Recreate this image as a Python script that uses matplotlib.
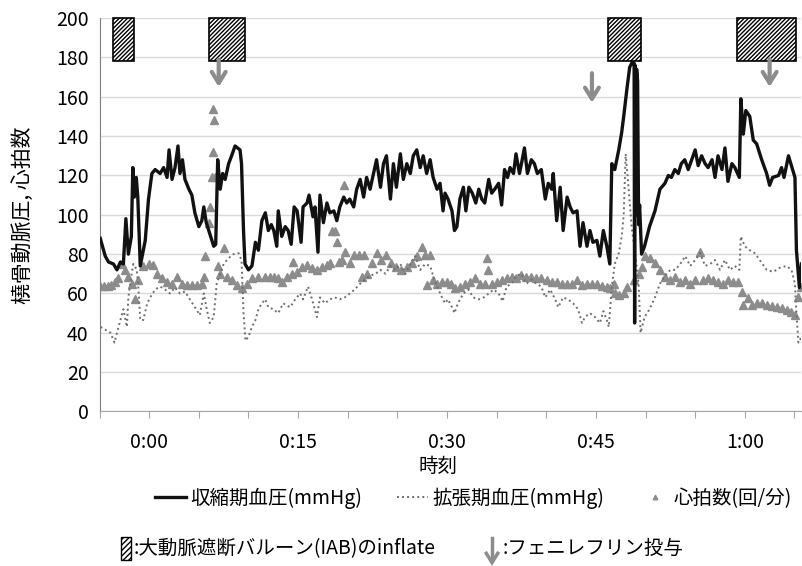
import matplotlib
matplotlib.use("Agg")
import matplotlib.pyplot as plt
from matplotlib.patches import Rectangle
from matplotlib.lines import Line2D
from matplotlib.ticker import MultipleLocator, FuncFormatter

plt.rcParams['font.family'] = ['Noto Sans CJK JP', 'DejaVu Sans']
plt.rcParams['hatch.linewidth'] = 1.0

# ---- data (minutes from 0:00) ----------------------------------------------
sys_t = [-4.93, -4.43, -4.1, -3.6, -3.25, -2.9, -2.6, -2.35, -2.1, -1.8, -1.65, -1.5, -1.3, -1.15,
         -0.9, -0.4, -0.07, 0.27, 0.6, 1.1, 1.45, 1.8, 2.0, 2.3, 2.6, 2.9, 3.1, 3.35, 3.6, 4.0,
         4.3, 4.6, 5.0, 5.3, 5.5, 5.75, 6.0, 6.5, 6.7, 6.9, 7.15, 7.4, 7.65, 8.0, 8.3, 8.65,
         9.15, 9.3, 9.5, 9.65, 10.0, 10.35, 10.7, 11.0, 11.35, 11.7, 12.0, 12.3, 12.55, 12.85,
         13.0, 13.35, 13.7, 14.0, 14.3, 14.6, 14.9, 15.3, 15.5, 15.9, 16.1, 16.5, 16.7, 17.0,
         17.2, 17.55, 17.9, 18.2, 18.6, 18.9, 19.2, 19.6, 19.9, 20.2, 20.6, 20.9, 21.25, 21.6,
         21.9, 22.25, 22.6, 22.9, 23.3, 23.6, 23.9, 24.3, 24.6, 24.9, 25.3, 25.6, 25.95, 26.3,
         26.6, 26.95, 27.3, 27.6, 27.95, 28.3, 28.6, 29.0, 29.3, 29.6, 29.8, 30.1, 30.5, 30.75,
         31.0, 31.3, 31.65, 31.9, 32.2, 32.55, 32.9, 33.2, 33.5, 33.8, 34.2, 34.5, 34.8, 35.2,
         35.5, 35.8, 36.1, 36.35, 36.7, 36.95, 37.3, 37.5, 37.8, 38.1, 38.5, 38.8, 39.1, 39.5,
         39.9, 40.2, 40.55, 40.7, 41.05, 41.4, 41.7, 42.1, 42.4, 42.7, 43.1, 43.4, 43.7, 44.1,
         44.4, 44.7, 45.1, 45.4, 45.75, 46.1, 46.4, 46.6, 46.9, 47.3, 47.6, 47.8, 48.1, 48.4,
         48.7, 48.85, 48.9, 48.95, 49.05, 49.1, 49.2, 49.3, 49.4, 49.6, 49.9, 50.4, 50.95, 51.45,
         51.95, 52.3, 52.6, 52.95, 53.3, 53.6, 53.95, 54.3, 54.65, 55.0, 55.3, 55.65, 56.0, 56.3,
         56.7, 57.0, 57.3, 57.7, 58.0, 58.3, 58.7, 59.0, 59.45, 59.6, 59.85, 60.1, 60.5, 60.85,
         61.2, 61.7, 62.2, 62.5, 62.8, 63.4, 63.7, 63.95, 64.4, 64.7, 65.05, 65.2, 65.5, 65.7]
sys_v = [88, 79, 76, 75, 72, 76, 75, 98, 80, 89, 124, 109, 119, 109,
         74, 87, 108, 121, 123, 121, 124, 119, 133, 118, 124, 135, 121, 128, 118, 113,
         110, 101, 94, 97, 104, 96, 92, 84, 85, 128, 113, 121, 118, 126, 130, 135,
         133, 126, 92, 75, 72, 74, 86, 82, 97, 101, 92, 95, 92, 84,
         102, 89, 94, 92, 85, 104, 102, 86, 104, 106, 110, 99, 104, 81,
         110, 96, 106, 101, 102, 97, 104, 109, 106, 108, 104, 113, 118, 109,
         119, 113, 121, 128, 114, 126, 130, 108, 126, 114, 131, 118, 126, 121,
         130, 133, 124, 130, 121, 128, 119, 113, 116, 102, 111, 108, 102, 92,
         94, 108, 114, 102, 114, 111, 106, 113, 108, 106, 118, 111, 113, 116,
         105, 123, 119, 124, 121, 131, 121, 126, 134, 121, 128, 126, 121, 123,
         108, 116, 113, 121, 97, 114, 92, 109, 104, 101, 102, 84, 96, 84,
         92, 86, 87, 79, 92, 84, 75, 126, 123, 133, 142, 150, 163, 175,
         178, 177, 45, 176, 100, 174, 168, 95, 105, 80, 84, 94, 102, 113,
         116, 120, 119, 123, 121, 126, 128, 123, 128, 133, 125, 130, 126, 124,
         128, 119, 130, 123, 134, 117, 126, 124, 119, 159, 141, 153, 150, 138,
         136, 128, 121, 115, 119, 120, 124, 119, 130, 125, 119, 82, 63, 75]

dia_t = [-4.9, -4.4, -3.9, -3.5, -3.25, -2.9, -2.6, -2.25, -2.1, -1.8, -1.6, -1.25, -1.1, -0.9,
         -0.6, -0.2, 0.1, 0.6, 1.1, 1.6, 2.1, 2.6, 3.1, 3.6, 4.1, 4.6, 5.1, 5.5, 5.8, 6.1, 6.5,
         6.8, 7.15, 7.5, 8.0, 8.5, 9.0, 9.3, 9.5, 9.7, 10.0, 10.35, 10.7, 11.0, 11.35, 11.7,
         12.0, 12.5, 13.0, 13.5, 14.2, 14.7, 15.2, 15.5, 16.0, 16.4, 16.9, 17.2, 17.7, 18.2,
         18.7, 19.2, 19.7, 20.2, 20.7, 21.25, 21.75, 22.25, 22.8, 23.3, 23.8, 24.3, 24.8, 25.3,
         25.8, 26.3, 26.8, 27.3, 27.8, 28.3, 28.6, 29.0, 29.5, 29.8, 30.1, 30.5, 30.75, 31.1,
         31.65, 32.15, 32.65, 33.2, 33.7, 34.2, 34.7, 35.2, 35.6, 36.0, 36.5, 37.0, 37.5, 38.0,
         38.5, 39.0, 39.5, 39.9, 40.4, 40.9, 41.2, 41.7, 42.2, 42.7, 43.2, 43.6, 43.9, 44.4,
         44.9, 45.4, 45.75, 46.1, 46.3, 46.6, 46.9, 47.3, 47.6, 47.8, 48.0, 48.3, 48.6, 48.9,
         49.3, 49.5, 49.9, 50.4, 50.95, 51.45, 51.95, 52.5, 53.0, 53.5, 54.0, 54.5, 55.0, 55.5,
         56.0, 56.5, 57.0, 57.5, 58.0, 58.5, 59.0, 59.45, 59.6, 60.0, 60.5, 61.0, 61.5, 62.2,
         62.85, 63.5, 64.2, 64.7, 65.05, 65.2, 65.4, 65.7]
dia_v = [43, 41.5, 40, 35, 40, 46.5, 52, 43, 58, 69, 75, 72, 63.5, 46.5,
         46.5, 55, 58, 62, 63.5, 62, 60, 63, 60, 61, 57, 53, 49, 60, 52, 45, 48,
         65, 70, 75, 78, 80, 80.5, 77, 50, 36, 38, 43, 46.5, 52, 55, 57,
         53, 52, 50, 55, 53, 57, 60, 57, 63.5, 57, 48, 58, 55, 57,
         58, 57, 58, 60, 62, 65, 67, 69, 70, 72, 70, 74, 72, 75,
         70, 75, 79, 72, 75, 74, 69, 63.5, 58, 55, 57, 53, 50, 55,
         60, 62, 58, 57, 58, 60, 62, 60, 56, 63.5, 65, 69, 70, 65,
         67, 65, 63.5, 58, 62, 57, 53, 58, 57, 55, 52, 45, 48, 50,
         48, 45, 51, 46.5, 43, 63.5, 75, 80.5, 89, 100, 131, 113, 94, 82,
         65, 40, 48, 52, 58, 65, 69, 72, 72, 75, 79, 74, 77, 80.5,
         74, 75, 77, 72, 77, 72, 74, 72, 89, 84, 82, 80.5, 77, 72,
         71, 73, 74, 72, 65, 50, 35, 38]

hr_t = [-5.0, -4.6, -4.2, -3.8, -3.4, -3.1, -2.75, -2.4, -2.1, -1.75, -1.4, -1.1, -0.6, -0.07,
        0.4, 0.8, 1.3, 1.8, 2.3, 2.8, 3.3, 3.8, 4.3, 4.8, 5.3, 5.5, 5.6, 6.0, 6.1, 6.3, 6.4,
        6.45, 6.5, 6.65, 6.9, 7.15, 7.5, 7.8, 8.3, 8.8, 9.3, 9.85, 10.35, 11.0, 11.7, 12.2,
        12.6, 13.0, 13.35, 13.9, 14.4, 14.5, 14.9, 15.4, 15.9, 16.4, 16.9, 17.4, 17.9, 18.2,
        18.4, 18.7, 18.9, 19.1, 19.4, 19.6, 19.7, 20.2, 20.6, 21.1, 21.4, 21.6, 21.9, 22.4,
        22.9, 23.4, 23.9, 24.4, 24.9, 25.4, 25.95, 26.45, 26.95, 27.5, 27.8, 28.0, 28.3, 28.6,
        29.0, 29.5, 30.0, 30.4, 30.8, 31.3, 31.8, 32.3, 32.8, 33.3, 33.8, 34.0, 34.1, 34.5,
        35.0, 35.5, 36.0, 36.5, 37.0, 37.5, 38.0, 38.5, 39.0, 39.5, 40.05, 40.55, 41.05, 41.55,
        42.1, 42.6, 43.1, 43.6, 44.1, 44.6, 45.1, 45.6, 46.1, 46.4, 46.8, 46.9, 47.3, 47.8,
        48.1, 48.8, 49.3, 49.6, 49.9, 50.4, 50.95, 51.45, 51.95, 52.5, 53.0, 53.5, 54.0, 54.5,
        55.0, 55.5, 55.8, 56.3, 56.8, 57.3, 57.8, 58.3, 58.8, 59.3, 59.7, 59.85, 60.35, 60.7,
        61.2, 61.7, 62.2, 62.7, 63.2, 63.7, 64.2, 64.7, 65.05, 65.4, 65.7]
hr_v = [64, 64, 64, 64.5, 66, 68, 75, 72, 68.6, 65, 57, 67, 74, 75,
        74.5, 70, 68, 66, 65, 68.6, 65, 64.3, 64.3, 64.3, 65, 68.6, 79, 96, 104, 119, 132,
        154, 148, 119, 74, 70, 83, 68.6, 67, 64.3, 62.7, 65, 67.7, 68.6, 68.6, 68.6,
        68.6, 68, 66, 68.6, 70, 76, 71, 73.7, 74.5, 72.8, 72, 73.7, 74.5, 75.4,
        92, 92, 86, 76, 77, 115, 81, 75.4, 79.6, 79.6, 68.6, 79.6, 70, 75.4,
        80.5, 77, 79.6, 75.4, 73.7, 72, 73.7, 75.4, 78.8, 83.8, 79.6, 64.3, 79.6, 67,
        65, 66, 66, 65, 62.7, 63.5, 65, 66, 67.7, 65, 65, 78, 72, 65,
        66, 67, 67.7, 68.6, 67.7, 69.4, 68.6, 68.6, 67.7, 67.7, 67, 66, 66, 65,
        65, 65, 67, 64.3, 64.8, 64.8, 64.8, 63.8, 63.2, 62.7, 65, 60, 59.3, 60,
        63.5, 67, 70, 73.7, 78.8, 78, 75.4, 72, 68.6, 67, 68.6, 66, 67, 65,
        67, 81, 67, 67.7, 67, 66, 65, 67, 66, 66, 61, 54, 57.6, 54,
        55, 55, 54, 53.7, 53.3, 52.5, 51.6, 50.8, 49, 58, 63.5]

# IAB inflate periods (start, end) and phenylephrine doses (time, from, to)
iab_start = [-3.6, 6.0, 46.2, 59.2]
iab_end = [-1.5, 9.6, 49.5, 65.2]
drug_t = [7.0, 44.6, 62.5]
drug_from = [179, 172, 179]
drug_to = [165, 157, 165]

xticks_lab = {0: "0:00", 15: "0:15", 30: "0:30", 45: "0:45", 60: "1:00"}

# ---- figure ----------------------------------------------------------------
fig = plt.figure(figsize=(8.03, 5.66), dpi=100)
ax = fig.add_axes([0.124, 0.273, 0.874, 0.695])

grey = "#8c8c8c"
ln_sys, = ax.plot(sys_t, sys_v, color="#111111", lw=2.4, zorder=4)
ln_dia, = ax.plot(dia_t, dia_v, color="#6e6e6e", lw=1.4, ls=(0, (1, 1.6)), zorder=3)
ln_hr, = ax.plot(hr_t, hr_v, ls="none", marker="^", ms=5.5, color=grey, mec=grey, zorder=2)

for s, e in zip(iab_start, iab_end):
    ax.add_patch(Rectangle((s, 178), e - s, 22, facecolor="white", edgecolor="black",
                           hatch="////////", lw=1.2, zorder=5, clip_on=False))
for t, a, b in zip(drug_t, drug_from, drug_to):
    ax.annotate("", xy=(t, b), xytext=(t, a),
                arrowprops=dict(arrowstyle="->,head_length=0.8,head_width=0.5",
                                lw=3, color=grey, shrinkA=0, shrinkB=0), zorder=6)

ax.set_xlim(-5, 65.7)
ax.set_ylim(0, 200)
ax.set_yticks(range(0, 201, 20))
ax.yaxis.grid(True, color="#d9d9d9", lw=1)
ax.set_axisbelow(True)
ax.xaxis.set_major_locator(MultipleLocator(5))
ax.xaxis.set_major_formatter(FuncFormatter(lambda v, p: xticks_lab.get(int(round(v)), "")))
ax.tick_params(axis="x", direction="out", length=5, color="#a6a6a6", labelsize=14, pad=10)
ax.tick_params(axis="y", length=0, labelsize=14, pad=8)
for sp in ("top", "right"):
    ax.spines[sp].set_visible(False)
ax.spines["left"].set_color("#7f7f7f")
ax.spines["bottom"].set_color("#a6a6a6")
ax.set_ylabel("橈骨動脈圧, 心拍数", fontsize=15, labelpad=16)
fig.text(0.545, 0.176, "時刻", ha="center", va="center", fontsize=14)

fig.legend([ln_sys, ln_dia, ln_hr], ["収縮期血圧(mmHg)", "拡張期血圧(mmHg)", "心拍数(回/分)"],
           loc="center", bbox_to_anchor=(0.59, 0.12), ncol=3, frameon=False,
           fontsize=14, handlelength=1.6, handletextpad=0.2, columnspacing=1.8,
           markerscale=0.6)

# second legend row: IAB box and phenylephrine arrow
fig.patches.append(Rectangle((0.151, 0.011), 0.0125, 0.04, transform=fig.transFigure,
                             facecolor="white", edgecolor="black", hatch="//////", lw=1))
fig.text(0.167, 0.031, ":大動脈遮断バルーン(IAB)のinflate", ha="left", va="center", fontsize=14)
fig.add_artist(Line2D([0.6127, 0.6127], [0.05, 0.012], color=grey, lw=2.5))
fig.patches.append(plt.Polygon([[0.6045, 0.025], [0.6127, 0.006], [0.621, 0.025]],
                               closed=False, fill=False, edgecolor=grey, lw=2.5,
                               transform=fig.transFigure))
fig.text(0.626, 0.031, ":フェニレフリン投与", ha="left", va="center", fontsize=14)

fig.savefig("out.png", dpi=100)
